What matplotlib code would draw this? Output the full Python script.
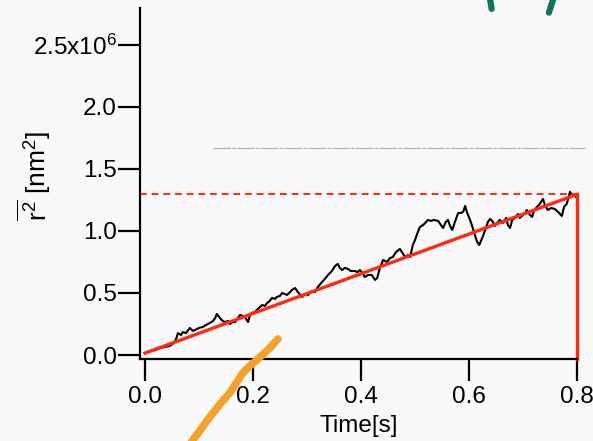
import numpy as np
import matplotlib.pyplot as plt

plt.rcParams['font.family'] = ['Liberation Sans', 'DejaVu Sans']
plt.rcParams['mathtext.default'] = 'regular'

# MSD trace, time in s, value in 10^6 nm^2
t = [0.000, 0.009, 0.019, 0.028, 0.037, 0.046, 0.054, 0.059, 0.061, 0.067,
     0.070, 0.076, 0.083, 0.089, 0.093, 0.100, 0.107, 0.113, 0.120, 0.126,
     0.130, 0.133, 0.139, 0.144, 0.148, 0.154, 0.157, 0.163, 0.167, 0.176,
     0.181, 0.185, 0.191, 0.194, 0.198, 0.204, 0.207, 0.213, 0.217, 0.222,
     0.226, 0.231, 0.235, 0.241, 0.244, 0.250, 0.254, 0.259, 0.263, 0.269,
     0.272, 0.278, 0.283, 0.291, 0.296, 0.302, 0.309, 0.315, 0.320, 0.328,
     0.333, 0.339, 0.346, 0.352, 0.357, 0.361, 0.365, 0.370, 0.376, 0.381,
     0.389, 0.393, 0.398, 0.404, 0.407, 0.413, 0.417, 0.420, 0.426, 0.430,
     0.435, 0.441, 0.448, 0.454, 0.459, 0.465, 0.472, 0.478, 0.481, 0.487,
     0.491, 0.496, 0.500, 0.504, 0.509, 0.515, 0.519, 0.524, 0.530, 0.535,
     0.543, 0.548, 0.552, 0.557, 0.561, 0.565, 0.569, 0.574, 0.580, 0.585,
     0.589, 0.593, 0.596, 0.602, 0.607, 0.611, 0.615, 0.619, 0.622, 0.626,
     0.630, 0.635, 0.639, 0.643, 0.648, 0.652, 0.657, 0.663, 0.669, 0.672,
     0.676, 0.680, 0.685, 0.691, 0.694, 0.698, 0.704, 0.707, 0.713, 0.717,
     0.720, 0.726, 0.731, 0.737, 0.741, 0.746, 0.752, 0.759, 0.765, 0.772,
     0.776, 0.781, 0.785, 0.787, 0.791, 0.794, 0.798]
msd = [0.016, 0.032, 0.040, 0.056, 0.065, 0.073, 0.097, 0.145, 0.177, 0.161,
       0.185, 0.177, 0.218, 0.194, 0.202, 0.218, 0.226, 0.242, 0.258, 0.274,
       0.298, 0.331, 0.298, 0.274, 0.266, 0.274, 0.250, 0.266, 0.266, 0.323,
       0.315, 0.306, 0.266, 0.315, 0.339, 0.347, 0.363, 0.387, 0.403, 0.395,
       0.419, 0.435, 0.460, 0.452, 0.468, 0.476, 0.500, 0.492, 0.484, 0.508,
       0.524, 0.540, 0.508, 0.468, 0.492, 0.484, 0.516, 0.508, 0.548, 0.589,
       0.613, 0.645, 0.677, 0.718, 0.734, 0.702, 0.685, 0.702, 0.694, 0.677,
       0.677, 0.669, 0.685, 0.653, 0.629, 0.645, 0.645, 0.645, 0.605, 0.621,
       0.702, 0.766, 0.750, 0.782, 0.790, 0.831, 0.855, 0.815, 0.790, 0.806,
       0.790, 0.887, 0.927, 0.976, 1.032, 1.048, 1.065, 1.089, 1.081, 1.089,
       1.081, 1.048, 1.024, 1.073, 1.089, 1.040, 1.008, 1.073, 1.145, 1.145,
       1.153, 1.202, 1.153, 1.089, 1.024, 0.968, 0.911, 0.887, 0.919, 0.960,
       1.008, 1.073, 1.097, 1.081, 1.040, 1.065, 1.089, 1.065, 1.105, 1.048,
       1.024, 1.089, 1.105, 1.137, 1.105, 1.121, 1.145, 1.169, 1.129, 1.113,
       1.161, 1.194, 1.218, 1.258, 1.202, 1.169, 1.185, 1.177, 1.153, 1.121,
       1.194, 1.218, 1.282, 1.315, 1.290, 1.298, 1.274]

# linear fit
fit_t = [0.0, 0.8]
fit_y = [0.015, 1.295]

t_end = 0.8
y_end = 1.30
gray_level = 1.67
gray_t = [0.126, 0.815]

# hand-drawn marks on the screenshot
orange_t = [0.078, 0.100, 0.120, 0.140, 0.157, 0.170, 0.181, 0.195, 0.207, 0.220, 0.231, 0.246]
orange_y = [-0.75, -0.62, -0.50, -0.39, -0.306, -0.22, -0.145, -0.085, -0.040, 0.010, 0.056, 0.129]
green1_t = [0.639, 0.642]
green1_y = [2.87, 2.79]
green2_t = [0.756, 0.748]
green2_y = [2.87, 2.76]

yticks = [0.0, 0.5, 1.0, 1.5, 2.0, 2.5]
ytick_labels = ['0.0', '0.5', '1.0', '1.5', '2.0', '2.5x10$^{6}$']
xticks = [0.0, 0.2, 0.4, 0.6, 0.8]

fs = 17.5
bg = '#f9f9f9'
fig = plt.figure(figsize=(5.93, 4.41), dpi=100, facecolor=bg)
ax = fig.add_axes([0.236, 0.186, 0.737, 0.796], facecolor=bg)

ax.plot(t, msd, color='black', lw=1.5)
ax.plot(fit_t, fit_y, color='#ff2a10', lw=2.4)
ax.plot([-0.01, t_end], [y_end, y_end], color='#ff2a10', lw=1.4, ls=(0, (3.5, 2.5)))
ax.plot([t_end, t_end], [-0.032, y_end], color='#ff2a10', lw=2.4, clip_on=False)
ax.plot(gray_t, [gray_level, gray_level], color='#b0b0b0', lw=0.9,
        ls=(0, (14, 1, 3, 1)), clip_on=False)

ax.plot(orange_t, orange_y, color='#f6a12a', lw=5.5, solid_capstyle='round', clip_on=False, zorder=5)
ax.plot(green1_t, green1_y, color='#0b7658', lw=4.5, solid_capstyle='round', clip_on=False)
ax.plot(green2_t, green2_y, color='#0b7658', lw=4.5, solid_capstyle='round', clip_on=False)

ax.set_xlim(-0.0093, 0.8)
ax.set_ylim(-0.032, 2.798)

ax.spines['top'].set_visible(False)
ax.spines['right'].set_visible(False)
for s in ['left', 'bottom']:
    ax.spines[s].set_linewidth(1.6)

ax.set_yticks(yticks)
ax.set_yticklabels(ytick_labels)
ax.set_xticks(xticks)
ax.set_xticklabels(['%.1f' % v for v in xticks])
ax.tick_params(axis='both', direction='out', length=15.5, width=1.6, labelsize=fs, pad=1)
ax.tick_params(axis='x', pad=4)

ax.set_xlabel('Time[s]', fontsize=fs, labelpad=5)
ax.set_ylabel(r'$\overline{r^{2}}$ [nm$^{2}$]', fontsize=19)
ax.yaxis.set_label_coords(-0.198, 0.52)

fig.savefig('out.png', dpi=100, facecolor=bg)
